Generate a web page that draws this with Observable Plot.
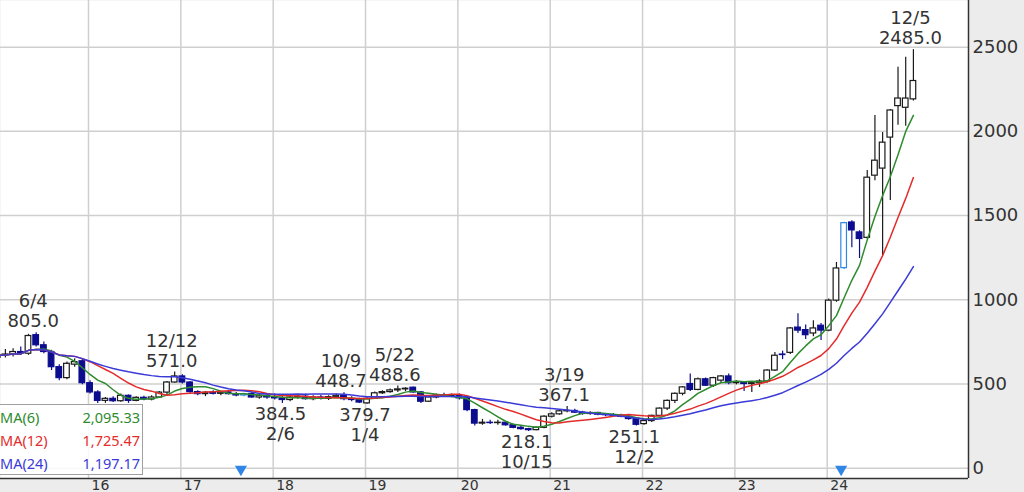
<!DOCTYPE html>
<html><head><meta charset="utf-8">
<script src="https://cdn.jsdelivr.net/npm/d3@7"></script>
<script src="https://cdn.jsdelivr.net/npm/@observablehq/plot@0.6"></script>
<style>
html,body{margin:0;padding:0;overflow:hidden;background:#ececec;}
#wrap{position:relative;width:1024px;height:492px;overflow:hidden;}
#legend{position:absolute;left:-3px;top:404px;width:146px;height:71px;border:1px solid #a0a0a0;background:rgba(255,255,255,0.86);font-family:"Noto Sans",sans-serif;font-size:14.5px;box-sizing:border-box;padding-top:1px;}
#legend .row{display:flex;justify-content:space-between;height:23px;line-height:23px;padding:0 2px 0 2px;}
</style></head><body><div id="wrap"></div>
<script>
// ---- data (monthly candles, Jan 2015 – Dec 2024) ----
const years = [2015,2016,2017,2018,2019,2020,2021,2022,2023,2024];
const open = [
  655,670,675,690,680,790,730,690,600,535,615,635,
  505,450,400,412,398,430,400,418,408,420,449,509,
  545,509,452,440,448,442,450,440,432,440,420,430,
  420,415,405,420,425,410,420,412,422,430,410,405,
  385,412,445,452,462,468,478,450,395,420,432,428,
  432,415,345,265,270,268,270,255,240,232,226,240,
  306,320,338,340,330,322,328,318,315,312,305,295,
  262,280,311,354,400,442,500,465,528,490,520,545,
  505,507,500,505,515,580,675,685,835,820,800,846,
  817,995,1188,1459,1400,1368,1737,1779,1963,2150,2140,2190];
const high = [
  690,705,710,720,795,805,750,700,615,630,650,650,
  520,460,420,425,440,435,425,428,430,455,515,571,
  555,515,460,455,460,455,458,450,445,448,440,440,
  440,425,430,435,440,430,432,430,440,448.7,425,415,
  418,452,460,470,488.6,478,482,455,425,440,445,440,
  440,420,350,290,285,285,278,262,248,238,245,312,
  330,345,367.1,350,338,335,332,325,325,320,310,298,
  290,315,358,405,446,485,560,535,535,540,550,560,
  520,515,515,525,585,687,695,835,917,850,876,860,
  1005,1222,1460,1470,1410,1767,2094,1993,2130,2380,2440,2485];
const low = [
  640,655,660,670,670,720,680,580,520,525,600,495,
  440,385,385,390,392,385,395,400,400,415,430,505,
  500,445,430,425,435,430,435,425,425,415,410,410,
  405,384.5,395,410,405,400,405,402,415,400,395,385,
  379.7,408,438,445,450,455,445,385,390,412,420,420,
  405,335,250,255,260,255,250,235,225,218.1,222,235,
  298,315,330,325,315,315,312,305,305,300,285,251.1,
  255,271,305,342,384,430,455,460,485,480,505,495,
  495,455,450,480,505,575,645,675,800,765,780,758,
  810,985,1180,1309,1245,1360,1707,1262,1589,2036,2030,2180];
const close = [
  670,675,690,680,785,730,690,600,535,620,630,505,
  450,400,412,398,430,400,418,408,420,449,509,545,
  509,452,440,448,442,450,440,432,440,420,430,420,
  415,405,420,425,410,420,412,422,430,410,405,390,
  412,445,452,462,468,472,450,395,420,432,428,432,
  415,345,265,270,268,270,255,240,232,226,240,306,
  320,338,340,330,322,328,318,315,312,305,292,258,
  280,311,354,400,442,480,465,528,490,535,545,505,
  507,500,505,515,580,668,672,830,817,790,830,817,
  995,1186,1455,1412,1361,1725,1826,1933,2124,2195,2195,2299];
const eventMonths = ["2017-09","2024-03"];
const highMonths = ["2015-06","2016-12","2018-10","2019-05","2021-03","2024-12"];
const highDates  = ["6/4","12/12","10/9","5/22","3/19","12/5"];
const lowMonths  = ["2018-02","2019-01","2020-10","2021-12"];
const lowDates   = ["2/6","1/4","10/15","12/2"];
const maPeriods = [6,12,24];
const maLabels  = ["MA(6)","MA(12)","MA(24)"];
const maLast    = [2095.33, 1725.47, 1197.17];
const maColors  = ["#2e8b2e","#e42b2b","#3a3ad8"];
const yTicks = [0,500,1000,1500,2000,2500];
const xTickYears = [2016,2017,2018,2019,2020,2021,2022,2023,2024];

// ---- build table ----
const monthKey = i => `${years[Math.floor(i/12)]}-${String(i%12+1).padStart(2,"0")}`;
const tOf = i => years[Math.floor(i/12)] + (i%12 + 0.2)/12;
const HALF = 0.0305;
const candles = close.map((c,i) => ({
  key: monthKey(i), t: tOf(i), open: open[i], high: high[i], low: low[i], close: c,
  event: eventMonths.includes(monthKey(i))
}));
const byKey = new Map(candles.map(d => [d.key, d]));
const NAVY = "#0c0c8e", EVT = "#2f86e6";
const bodyFill = d => d.event ? "white" : (d.close < d.open ? NAVY : "white");
const bodyStroke = d => d.event ? EVT : (d.close < d.open ? NAVY : "#1a1a1a");

const maSeries = maPeriods.map((k, j) => candles.map((d, i) => {
  const s = close.slice(Math.max(0, i - k + 1), i + 1);
  return {t: d.t, v: d3.mean(s), k: maLabels[j]};
}));

const highs = highMonths.map((m, i) => ({...byKey.get(m), date: highDates[i]}));
const lows  = lowMonths.map((m, i) => ({...byKey.get(m), date: lowDates[i]}));
const events = eventMonths.map(m => byKey.get(m));

const X0 = 2015.047, X1 = 2025.53, Y0 = -61, Y1 = 2777;
const fmt1 = d3.format(".1f");
const grid = {stroke: "#cfcfcf", strokeOpacity: 1, strokeWidth: 1.5};

const chart = Plot.plot({
  width: 1024, height: 492,
  marginLeft: 0, marginRight: 56, marginTop: 0, marginBottom: 14,
  x: {type: "linear", domain: [X0, X1]},
  y: {domain: [Y0, Y1]},
  color: {type: "identity"},
  style: {fontFamily: "DejaVu Sans", background: "#ececec", color: "#333", overflow: "hidden"},
  marks: [
    Plot.frame({fill: "white", stroke: null}),
    Plot.gridY(yTicks, grid),
    Plot.gridX(xTickYears, grid),
    Plot.ruleX(candles, {x: "t", y1: "low", y2: "high", stroke: bodyStroke, strokeWidth: 1.2}),
    Plot.rect(candles, {x1: d => d.t - HALF, x2: d => d.t + HALF, y1: "open", y2: "close",
      fill: bodyFill, stroke: bodyStroke, strokeWidth: 1.2}),
    ...maSeries.map((s, j) => Plot.line(s, {x: "t", y: "v", stroke: maColors[j], strokeWidth: 1.5, curve: "linear"})),
    Plot.dot(events, {x: "t", y: 0, symbol: "triangle", rotate: 180, r: 4.5, fill: EVT, stroke: null, dx: -3, dy: 1}),
    Plot.text(highs, {x: "t", y: "high", text: d => fmt1(d.high), dy: -11, dx: -3, fontSize: 18, fill: "#333"}),
    Plot.text(highs, {x: "t", y: "high", text: "date", dy: -31, dx: -3, fontSize: 18, fill: "#333"}),
    Plot.text(lows, {x: "t", y: "low", text: d => fmt1(d.low), dy: 11, dx: -2, fontSize: 18, fill: "#333"}),
    Plot.text(lows, {x: "t", y: "low", text: "date", dy: 31, dx: -2, fontSize: 18, fill: "#333"}),
    Plot.ruleY([Y0], {stroke: "#333", strokeWidth: 1.5}),
    Plot.ruleX([X1], {stroke: "#333", strokeWidth: 1.5}),
    Plot.axisY({ticks: yTicks, anchor: "right", tickSize: 0, tickPadding: 4, fontSize: 18, label: null, tickFormat: d => String(d)}),
    Plot.axisX({ticks: xTickYears, anchor: "bottom", tickSize: 0, tickPadding: 2, textAnchor: "start", dx: 3, fontSize: 14, label: null, tickFormat: d => String(d % 100)})
  ]
});
const wrap = document.getElementById("wrap");
wrap.appendChild(chart);

// legend (MA values at the last month, as printed on the chart)
const legend = document.createElement("div");
legend.id = "legend";
maLabels.forEach((lab, j) => {
  const row = document.createElement("div");
  row.className = "row";
  row.style.color = maColors[j];
  const a = document.createElement("span"); a.textContent = lab;
  const b = document.createElement("span"); b.textContent = d3.format(",.2f")(maLast[j]);
  row.append(a, b);
  legend.appendChild(row);
});
wrap.appendChild(legend);
</script></body></html>
